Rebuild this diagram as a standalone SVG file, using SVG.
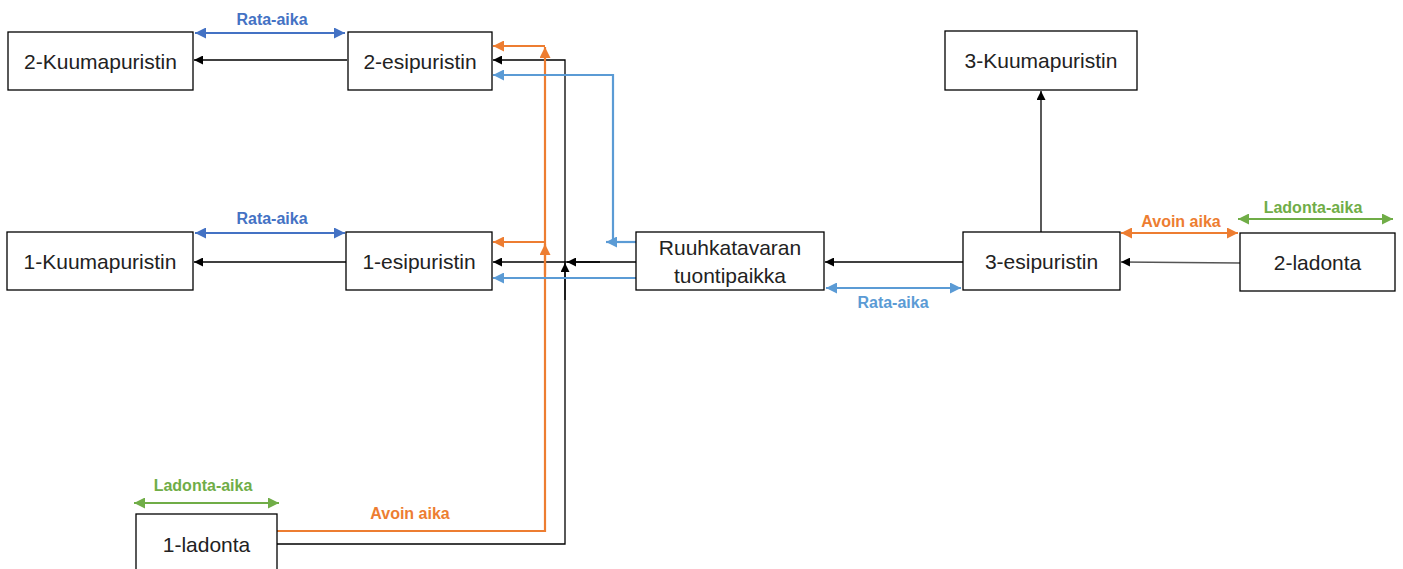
<svg xmlns="http://www.w3.org/2000/svg" width="1403" height="569" viewBox="0 0 1403 569">
  <style>
    .box { fill: #ffffff; stroke: #000000; stroke-width: 1.3; }
    .node-text { font-family: "Liberation Sans", Arial, sans-serif; font-size: 21px; fill: #222222; text-anchor: middle; dominant-baseline: central; }
    .label { font-family: "Liberation Sans", Arial, sans-serif; font-size: 16px; font-weight: bold; text-anchor: middle; }
    .line { fill: none; }
    .black { stroke: #000000; stroke-width: 1.3; }
    .gray { stroke: #555555; stroke-width: 1.5; }
    .orange { stroke: #ED7D31; stroke-width: 2.2; }
    .blue { stroke: #5B9BD5; stroke-width: 2.2; }
    .dblue { stroke: #4472C4; stroke-width: 2.2; }
    .green { stroke: #70AD47; stroke-width: 2.2; }
  </style>
  <defs>
    <marker id="arrow-black" viewBox="0 0 10 10" refX="10" refY="5" markerWidth="9" markerHeight="9" markerUnits="userSpaceOnUse" orient="auto-start-reverse">
      <path d="M0,0 L10,5 L0,10 z" fill="#000000"/>
    </marker>
    <marker id="arrow-orange" viewBox="0 0 10 10" refX="10" refY="5" markerWidth="11" markerHeight="11" markerUnits="userSpaceOnUse" orient="auto-start-reverse">
      <path d="M0,0 L10,5 L0,10 z" fill="#ED7D31"/>
    </marker>
    <marker id="arrow-blue" viewBox="0 0 10 10" refX="10" refY="5" markerWidth="11" markerHeight="11" markerUnits="userSpaceOnUse" orient="auto-start-reverse">
      <path d="M0,0 L10,5 L0,10 z" fill="#5B9BD5"/>
    </marker>
    <marker id="arrow-dblue" viewBox="0 0 10 10" refX="10" refY="5" markerWidth="11" markerHeight="11" markerUnits="userSpaceOnUse" orient="auto-start-reverse">
      <path d="M0,0 L10,5 L0,10 z" fill="#4472C4"/>
    </marker>
    <marker id="arrow-green" viewBox="0 0 10 10" refX="10" refY="5" markerWidth="11" markerHeight="11" markerUnits="userSpaceOnUse" orient="auto-start-reverse">
      <path d="M0,0 L10,5 L0,10 z" fill="#70AD47"/>
    </marker>
  </defs>

  <rect width="1403" height="569" fill="#ffffff"/>

  <!-- connectors -->
  <g id="connectors">
    <!-- material flow (black) -->
    <path class="line black" d="M347,60 H194" marker-end="url(#arrow-black)"/>
    <path class="line black" d="M346,262 H194" marker-end="url(#arrow-black)"/>
    <path class="line black" d="M636,262 H493" marker-end="url(#arrow-black)"/>
    <path class="line black" d="M600,262 H567" marker-end="url(#arrow-black)"/>
    <path class="line black" d="M277,544 H565 V60 H493" marker-end="url(#arrow-black)"/>
    <path class="line black" d="M565,300 V263" marker-end="url(#arrow-black)"/>
    <path class="line black" d="M963,262 H825" marker-end="url(#arrow-black)"/>
    <path class="line gray" d="M1240,263 L1121,262" marker-end="url(#arrow-black)"/>
    <path class="line black" d="M1041,232 V91" marker-end="url(#arrow-black)"/>

    <!-- open time (orange) -->
    <path class="line orange" d="M277,531 H545 V47" marker-end="url(#arrow-orange)"/>
    <path class="line orange" d="M545,46 H493" marker-end="url(#arrow-orange)"/>
    <path class="line orange" d="M545,242 H493" marker-end="url(#arrow-orange)"/>
    <path class="line orange" d="M545,275 V244" marker-end="url(#arrow-orange)"/>
    <path class="line orange" d="M1121,233 H1238" marker-start="url(#arrow-orange)" marker-end="url(#arrow-orange)"/>

    <!-- track time (blue) -->
    <path class="line blue" d="M636,242 H606" marker-end="url(#arrow-blue)"/>
    <path class="line blue" d="M636,242 H613 V75 H493" marker-end="url(#arrow-blue)"/>
    <path class="line blue" d="M636,278 H493" marker-end="url(#arrow-blue)"/>
    <path class="line blue" d="M826,288 H961" marker-start="url(#arrow-blue)" marker-end="url(#arrow-blue)"/>
    <path class="line dblue" d="M195,33 H345" marker-start="url(#arrow-dblue)" marker-end="url(#arrow-dblue)"/>
    <path class="line dblue" d="M195,233 H345" marker-start="url(#arrow-dblue)" marker-end="url(#arrow-dblue)"/>

    <!-- stacking time (green) -->
    <path class="line green" d="M1238,219 H1393" marker-start="url(#arrow-green)" marker-end="url(#arrow-green)"/>
    <path class="line green" d="M134,503 H279" marker-start="url(#arrow-green)" marker-end="url(#arrow-green)"/>

    <!-- connector labels -->
    <text class="label" x="272" y="25" fill="#4472C4">Rata-aika</text>
    <text class="label" x="272" y="224" fill="#4472C4">Rata-aika</text>
    <text class="label" x="893" y="308" fill="#5B9BD5">Rata-aika</text>
    <text class="label" x="1181" y="227" fill="#ED7D31">Avoin aika</text>
    <text class="label" x="410" y="519" fill="#ED7D31">Avoin aika</text>
    <text class="label" x="1313" y="213" fill="#70AD47">Ladonta-aika</text>
    <text class="label" x="203" y="491" fill="#70AD47">Ladonta-aika</text>
  </g>

  <!-- nodes -->
  <g id="kuumapuristin-2">
    <rect class="box" x="8" y="32" width="185" height="58"/>
    <text class="node-text" x="100.5" y="61">2-Kuumapuristin</text>
  </g>
  <g id="esipuristin-2">
    <rect class="box" x="348" y="32" width="144" height="58"/>
    <text class="node-text" x="420" y="61">2-esipuristin</text>
  </g>
  <g id="kuumapuristin-1">
    <rect class="box" x="7" y="232" width="186" height="58"/>
    <text class="node-text" x="100" y="261">1-Kuumapuristin</text>
  </g>
  <g id="esipuristin-1">
    <rect class="box" x="346" y="232" width="146" height="58"/>
    <text class="node-text" x="419" y="261">1-esipuristin</text>
  </g>
  <g id="ruuhkatavaran-tuontipaikka">
    <rect class="box" x="636" y="232" width="188" height="58"/>
    <text class="node-text" x="730" y="247">Ruuhkatavaran</text>
    <text class="node-text" x="730" y="275">tuontipaikka</text>
  </g>
  <g id="esipuristin-3">
    <rect class="box" x="963" y="232" width="157" height="58"/>
    <text class="node-text" x="1041.5" y="261">3-esipuristin</text>
  </g>
  <g id="ladonta-2">
    <rect class="box" x="1240" y="233" width="155" height="58"/>
    <text class="node-text" x="1317.5" y="262">2-ladonta</text>
  </g>
  <g id="kuumapuristin-3">
    <rect class="box" x="945" y="31" width="192" height="59"/>
    <text class="node-text" x="1041" y="60">3-Kuumapuristin</text>
  </g>
  <g id="ladonta-1">
    <rect class="box" x="136" y="514" width="141" height="62"/>
    <text class="node-text" x="206.5" y="544">1-ladonta</text>
  </g>
</svg>
